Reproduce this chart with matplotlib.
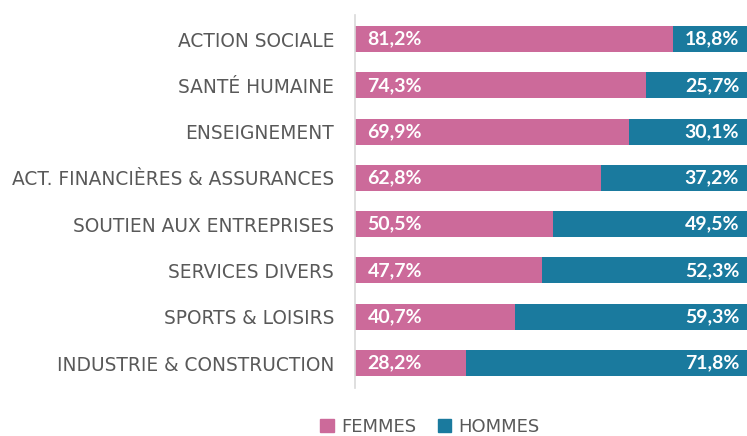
import matplotlib
matplotlib.use("Agg")
import matplotlib.pyplot as plt
from matplotlib.patches import Patch

categories = ["ACTION SOCIALE", "SANTÉ HUMAINE", "ENSEIGNEMENT",
              "ACT. FINANCIÈRES & ASSURANCES", "SOUTIEN AUX ENTREPRISES",
              "SERVICES DIVERS", "SPORTS & LOISIRS", "INDUSTRIE & CONSTRUCTION"]
femmes = [81.2, 74.3, 69.9, 62.8, 50.5, 47.7, 40.7, 28.2]
hommes = [18.8, 25.7, 30.1, 37.2, 49.5, 52.3, 59.3, 71.8]
series_names = ["FEMMES", "HOMMES"]

PINK = "#CC6A9A"
BLUE = "#1A7A9E"
GRAY = "#595959"

plt.rcParams['font.family'] = ['DejaVu Sans']

fig = plt.figure(figsize=(7.47, 4.36), dpi=100)
ax = fig.add_axes([355/747, 1 - 388/436, 1 - 355/747, 373/436])

y = list(range(len(categories)))
ax.barh(y, femmes, height=0.56, color=PINK, linewidth=0)
ax.barh(y, hommes, left=femmes, height=0.56, color=BLUE, linewidth=0)

def fmt(v):
    return f"{v:.1f}%".replace(".", ",")

for i, (f, h) in enumerate(zip(femmes, hommes)):
    ax.text(3.2, i, fmt(f), ha="left", va="center", color="white",
            fontsize=14, fontweight="bold", family=["Lato", "DejaVu Sans"])
    ax.text(98, i, fmt(h), ha="right", va="center", color="white",
            fontsize=14, fontweight="bold", family=["Lato", "DejaVu Sans"])

ax.set_xlim(0, 100)
ax.set_ylim(7.54, -0.52)
ax.set_yticks(y)
ax.set_yticklabels(categories, fontsize=13.4, color=GRAY)
ax.tick_params(axis="y", length=0, pad=15)
ax.set_xticks([])
for s in ["top", "right", "bottom"]:
    ax.spines[s].set_visible(False)
ax.spines["left"].set_color("#D9D9D9")
ax.spines["left"].set_linewidth(1.2)

handles = [Patch(color=PINK, label=series_names[0]),
           Patch(color=BLUE, label=series_names[1])]
fig.legend(handles=handles, loc="center", bbox_to_anchor=(430/747, 1 - 427/436),
           ncol=2, frameon=False, fontsize=13, labelcolor=GRAY,
           handlelength=0.75, handleheight=0.75, handletextpad=0.4,
           columnspacing=1.2, borderpad=0.1)

fig.savefig("out.png", dpi=100)
